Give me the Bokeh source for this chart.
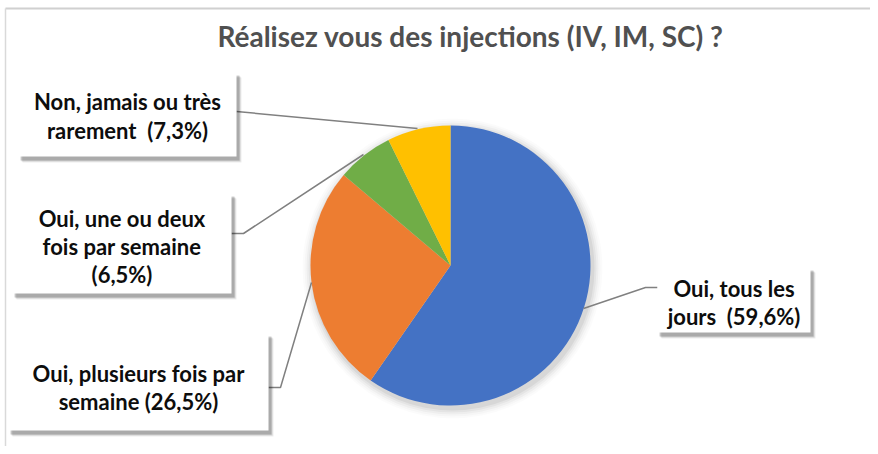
import math
import pandas as pd
from bokeh.plotting import figure
from bokeh.models import Range1d, ColumnDataSource
from bokeh.core.properties import value
from bokeh.embed import file_html
from bokeh.resources import INLINE

# ---- data ----
categories = ["Oui, tous les jours", "Oui, plusieurs fois par semaine",
              "Oui, une ou deux fois par semaine", "Non, jamais ou très rarement"]
percents = [59.6, 26.5, 6.5, 7.3]
colors = ["#4472C4", "#ED7D31", "#70AD47", "#FFC000"]
label_lines = [["Oui, tous les", "jours \u00a0(59,6%)"],
               ["Oui, plusieurs fois par", "semaine (26,5%)"],
               ["Oui, une ou deux", "fois par semaine", "(6,5%)"],
               ["Non, jamais ou très", "rarement \u00a0(7,3%)"]]
title = "Réalisez vous des injections (IV, IM, SC) ?"

W, H = 870, 446
def X(px):  # screenshot x -> data x
    return px
def Y(py):  # screenshot y -> data y
    return H - py

p = figure(width=W, height=H, x_range=Range1d(0, W), y_range=Range1d(0, H),
           output_backend="svg", toolbar_location=None, min_border=0)
p.axis.visible = False
p.grid.visible = False
p.outline_line_color = None
p.background_fill_color = "white"
p.border_fill_color = "white"

# chart area border (top and left)
p.line([X(5), W], [Y(8), Y(8)], line_color="#d0d0d0", line_width=2)
p.line([X(5), X(5)], [Y(8), 0], line_color="#d9d9d9", line_width=1.5)

# title
p.text([X(470)], [Y(35)], text=[title], text_font=value("Lato"),
       text_font_style="bold", text_font_size="28px", text_color="#505050",
       text_align="center", text_baseline="middle")

# pie
cx, cy, r = X(450), Y(265), 140
df = pd.DataFrame({"cat": categories, "pct": percents, "color": colors})
total = df["pct"].sum()
ang = df["pct"] / total * 2 * math.pi
end_cum = ang.cumsum()
df["start"] = math.pi / 2 - (end_cum - ang)
df["end"] = math.pi / 2 - end_cum
df["x"] = cx
df["y"] = cy

# soft shadow
for i, a in enumerate([0.05, 0.04, 0.03, 0.02, 0.015]):
    p.circle(x=[cx + 2], y=[cy - 3], radius=r + 2 + 2 * i, fill_color="black",
             fill_alpha=a, line_color=None)

src = ColumnDataSource(df)
p.wedge(x="x", y="y", radius=r, start_angle="start", end_angle="end",
        direction="clock", fill_color="color", line_color=None, source=src)

# leader lines (screenshot coords)
leaders = [
    [(583, 308), (645, 287), (657, 287)],
    [(311, 282), (280, 387), (268, 387)],
    [(363, 154), (243, 233), (231, 233)],
    [(417, 128), (236, 111)],
]
for pts in leaders:
    p.line([X(a) for a, b in pts], [Y(b) for a, b in pts],
           line_color="#808080", line_width=1.5)

# label boxes (screenshot coords: left, top, right, bottom) and text line y's
boxes = [(657, 267, 810, 332), (8, 333, 268, 430), (12, 193, 231, 293), (18, 72, 236, 156)]
text_ys = [[288, 316], [373, 401], [218, 246, 274], [101, 130]]

for (l, t, rr, b), lines, ys in zip(boxes, label_lines, text_ys):
    for k, a in enumerate([0.18, 0.12, 0.07]):
        p.quad(left=[X(l) + 2 + k], right=[X(rr) + 3 + k], top=[Y(t) - 3 - k],
               bottom=[Y(b) - 4 - k], fill_color="black", fill_alpha=a, line_color=None)
    p.quad(left=[X(l)], right=[X(rr)], top=[Y(t)], bottom=[Y(b)],
           fill_color="white", line_color=None)
    xc = X((l + rr) / 2)
    p.text([xc] * len(lines), [Y(v) for v in ys], text=lines,
           text_font=value("Lato"), text_font_style="bold", text_font_size="22px",
           text_color="#0d0d0d", text_align="center", text_baseline="middle")

open("out.html", "w").write(file_html(p, INLINE))
